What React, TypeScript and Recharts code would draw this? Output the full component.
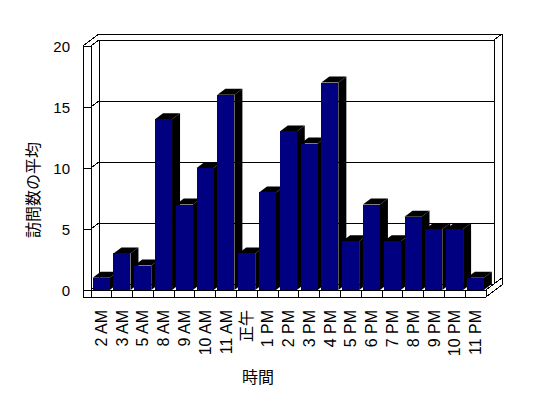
import React from 'react';
import { BarChart, Bar, XAxis, YAxis, CartesianGrid } from 'recharts';

// 時間帯ごとの訪問数の平均
const hours = ['2 AM', '3 AM', '5 AM', '8 AM', '9 AM', '10 AM', '11 AM', '正午', '1 PM', '2 PM', '3 PM', '4 PM', '5 PM', '6 PM', '7 PM', '8 PM', '9 PM', '10 PM', '11 PM'];
const avgVisits = [1, 3, 2, 14, 7, 10, 16, 3, 8, 13, 12, 17, 4, 7, 4, 6, 5, 5, 1];
const valueTicks = [0, 5, 10, 15, 20];

const data = hours.map((hour, i) => ({ hour, visits: avgVisits[i] }));

// layout of the front plane of the 3d box
const W = 548;
const H = 398;
const LEFT = 91;
const RIGHT = 486;
const TOP = 46;
const BOTTOM = 290;
const DX = 8; // depth offset
const DY = -6;
const WALL = 8;
const FLOOR = 7;
const BAND = (RIGHT - LEFT) / hours.length;

const LATIN = '"Liberation Sans", Arial, sans-serif';
const CJK = '"Noto Sans CJK JP", sans-serif';

const Frame = () => {
    const ox = LEFT - WALL;
    const outline = [
        [ox, TOP],
        [ox + 2 * DX, TOP + 2 * DY],
        [RIGHT + 2 * DX, TOP + 2 * DY],
        [RIGHT + 2 * DX, BOTTOM + FLOOR + 2 * DY],
        [RIGHT, BOTTOM + FLOOR],
        [ox, BOTTOM + FLOOR],
    ].map((p) => p.join(',')).join(' ');
    const lines: number[][] = [
        [LEFT, TOP, LEFT, BOTTOM + FLOOR],
        [LEFT, TOP, LEFT + DX, TOP + DY],
        [LEFT + DX, TOP + DY, LEFT + DX, BOTTOM + DY],
        [RIGHT + DX, TOP + DY, RIGHT + DX, BOTTOM + DY],
        [RIGHT + DX, TOP + DY, RIGHT + 2 * DX, TOP + 2 * DY],
        [LEFT, BOTTOM, RIGHT, BOTTOM],
        [RIGHT, BOTTOM, RIGHT + DX, BOTTOM + DY],
        [RIGHT, BOTTOM, RIGHT, BOTTOM + FLOOR],
        [RIGHT + DX, BOTTOM + DY, RIGHT + 2 * DX, BOTTOM + 2 * DY],
    ];
    return (
        <svg width={W} height={H} style={{ position: 'absolute', left: 0, top: 0 }}>
            <rect x={0} y={0} width={W} height={H} fill="#fff" />
            <polygon points={outline} fill="#fff" stroke="#000" strokeWidth={1} shapeRendering="crispEdges" />
            {lines.map(([x1, y1, x2, y2], i) => (
                <line key={i} x1={x1} y1={y1} x2={x2} y2={y2} stroke="#000" strokeWidth={1} shapeRendering="crispEdges" />
            ))}
            <text x={32} y={190} transform="rotate(-90 32 190)" textAnchor="middle" dominantBaseline="central" fontFamily={CJK} fontSize={16} fill="#000">
                訪問数の平均
            </text>
            <text x={258} y={376} textAnchor="middle" dominantBaseline="central" fontFamily={CJK} fontSize={16} fill="#000">
                時間
            </text>
        </svg>
    );
};

const GridLine = (props: any) => {
    const { y1, index } = props;
    return (
        <g key={`grid-${index}`} shapeRendering="crispEdges">
            <line x1={LEFT - WALL} y1={y1} x2={LEFT} y2={y1} stroke="#000" />
            <line x1={LEFT} y1={y1} x2={LEFT + DX} y2={y1 + DY} stroke="#000" />
            <line x1={LEFT + DX} y1={y1 + DY} x2={RIGHT + DX} y2={y1 + DY} stroke="#000" />
        </g>
    );
};

const ValueTick = (props: any) => {
    const { y, payload } = props;
    return (
        <text x={70} y={y} textAnchor="end" dominantBaseline="central" fontFamily={LATIN} fontSize={15} fill="#000">
            {payload.value}
        </text>
    );
};

const HourTick = (props: any) => {
    const { x, payload } = props;
    const ty = BOTTOM + 20;
    return (
        <g>
            <line x1={x + BAND / 2} y1={BOTTOM} x2={x + BAND / 2} y2={BOTTOM + FLOOR} stroke="#000" shapeRendering="crispEdges" />
            <text
                x={x}
                y={ty}
                transform={`rotate(-90 ${x} ${ty})`}
                textAnchor="end"
                dominantBaseline="central"
                fontFamily={`${LATIN}, ${CJK}`}
                fontSize={16}
                fill="#000"
            >
                {payload.value}
            </text>
        </g>
    );
};

const Bar3D = (props: any) => {
    const { x, y, width, height } = props;
    if (!height) return <g />;
    const top = `${x},${y} ${x + width},${y} ${x + width + DX},${y + DY} ${x + DX},${y + DY}`;
    const side = `${x + width},${y} ${x + width + DX},${y + DY} ${x + width + DX},${y + height + DY} ${x + width},${y + height}`;
    return (
        <g>
            <polygon points={top} fill="#000" />
            <polygon points={side} fill="#000" />
            <rect x={x} y={y} width={width} height={height} fill="#000080" shapeRendering="crispEdges" />
        </g>
    );
};

export default function App() {
    return (
        <div style={{ position: 'absolute', left: 0, top: 0, width: W, height: H, background: '#fff' }}>
            <Frame />
            <div style={{ position: 'absolute', left: 0, top: 0 }}>
                <BarChart
                    width={W}
                    height={H}
                    data={data}
                    margin={{ top: TOP, right: W - RIGHT, left: 0, bottom: 0 }}
                    barCategoryGap="8%"
                >
                    <CartesianGrid vertical={false} horizontal={GridLine} />
                    <XAxis dataKey="hour" height={H - BOTTOM} axisLine={false} tickLine={false} interval={0} tick={HourTick} />
                    <YAxis width={LEFT} domain={[0, 20]} ticks={valueTicks} interval={0} axisLine={false} tickLine={false} tick={ValueTick} />
                    <Bar dataKey="visits" shape={Bar3D} isAnimationActive={false} />
                </BarChart>
            </div>
        </div>
    );
}
